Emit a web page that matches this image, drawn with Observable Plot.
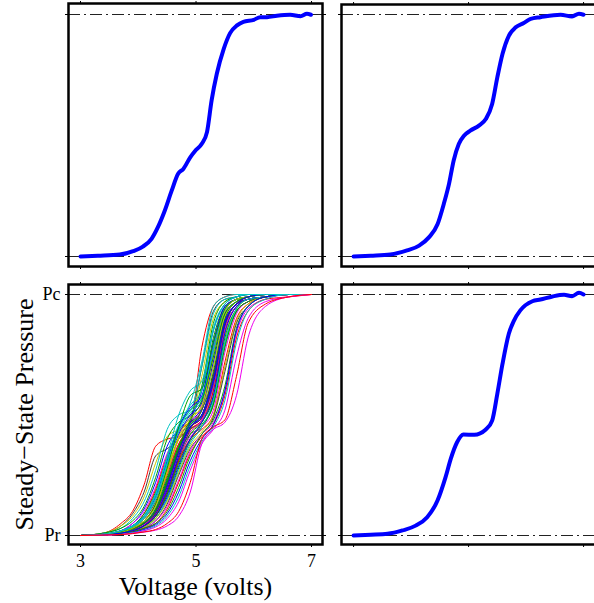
<!DOCTYPE html>
<html>
<head>
<meta charset="utf-8">
<script src="https://cdn.jsdelivr.net/npm/d3@7"></script>
<script src="https://cdn.jsdelivr.net/npm/@observablehq/plot@0.6"></script>
<style>
  html, body { margin: 0; padding: 0; background: white; overflow: hidden; }
  #wrap { position: relative; width: 594px; height: 603px; overflow: hidden; background: white; }
  #wrap > div { position: absolute; }
  #wrap svg { max-width: none !important; display: block; }
</style>
</head>
<body>
<div id="wrap">
  <div id="tl" style="left:0px;top:0px;width:330px"></div>
  <div id="tr" style="left:330px;top:0px;width:270px"></div>
  <div id="bl" style="left:0px;top:275px;width:330px"></div>
  <div id="br" style="left:330px;top:275px;width:270px"></div>
</div>
<script>
// ---------- data ----------
const xTicks = [3, 5, 7];
const xTickLabels = ["3", "5", "7"];
const yTickValues = [0, 1];
const yTickLabels = ["Pr", "Pc"];
const xLabel = "Voltage (volts)";
const yLabel = "Steady\u2212State Pressure";

// top-left single curve
const tlV = [3.0, 3.3, 3.68, 3.91, 4.08, 4.23, 4.34, 4.46, 4.58, 4.69, 4.78, 4.90, 4.98, 5.10, 5.19, 5.27, 5.36, 5.48, 5.59, 5.71, 5.82, 6.0, 6.11, 6.23, 6.40, 6.63, 6.81, 6.92, 6.99];
const tlP = [0, 0.003, 0.008, 0.022, 0.041, 0.073, 0.121, 0.19, 0.273, 0.342, 0.362, 0.41, 0.435, 0.466, 0.514, 0.645, 0.755, 0.858, 0.923, 0.955, 0.97, 0.978, 0.989, 0.989, 0.995, 0.999, 0.993, 1.003, 0.999];

// top-right single curve
const trV = [3.0, 3.3, 3.64, 3.93, 4.14, 4.31, 4.46, 4.57, 4.66, 4.74, 4.83, 4.92, 5.03, 5.18, 5.30, 5.41, 5.50, 5.59, 5.70, 5.82, 5.96, 6.08, 6.25, 6.60, 6.80, 6.92, 7.0];
const trP = [0, 0.003, 0.008, 0.025, 0.045, 0.079, 0.133, 0.218, 0.30, 0.396, 0.465, 0.499, 0.520, 0.541, 0.568, 0.63, 0.74, 0.837, 0.912, 0.947, 0.965, 0.982, 0.989, 0.999, 0.992, 1.003, 0.999];

// bottom-right single curve
const brV = [3.0, 3.3, 3.59, 3.85, 4.08, 4.28, 4.46, 4.60, 4.69, 4.80, 4.91, 5.10, 5.30, 5.41, 5.50, 5.59, 5.70, 5.79, 5.90, 6.11, 6.25, 6.46, 6.66, 6.80, 6.92, 7.0];
const brP = [0, 0.003, 0.007, 0.021, 0.041, 0.076, 0.145, 0.242, 0.318, 0.387, 0.419, 0.418, 0.44, 0.477, 0.588, 0.712, 0.837, 0.892, 0.934, 0.972, 0.979, 0.992, 0.999, 0.993, 1.007, 1.0];

// bottom-left: many curves on a shared voltage grid
const blV = [3.0, 3.4, 3.7, 3.9, 4.1, 4.3, 4.5, 4.7, 4.9, 5.1, 5.3, 5.5, 5.7, 5.9, 6.2, 6.6, 7.0];
const blCurves = [
  [0,.01,.05,.10,.21,.37,.40,.41,.46,.78,.95,.99,1,1,1,1,1],
  [0,.01,.04,.09,.18,.33,.36,.40,.47,.70,.93,.98,.99,1,1,1,1],
  [0,.01,.04,.08,.16,.30,.41,.44,.48,.66,.90,.97,.99,1,1,1,1],
  [0,.01,.03,.07,.14,.27,.44,.50,.52,.70,.92,.98,.99,1,1,1,1],
  [0,.01,.03,.06,.12,.24,.40,.47,.50,.62,.88,.97,.99,1,1,1,1],
  [0,.005,.02,.05,.11,.22,.37,.44,.49,.60,.85,.96,.99,1,1,1,1],
  [0,.005,.02,.05,.10,.20,.34,.42,.46,.55,.80,.95,.98,.99,1,1,1],
  [0,.005,.02,.04,.09,.19,.33,.43,.47,.52,.76,.93,.98,.99,1,1,1],
  [0,.005,.02,.04,.09,.18,.32,.45,.52,.57,.82,.95,.98,.99,1,1,1],
  [0,.005,.02,.04,.08,.17,.30,.42,.50,.55,.78,.94,.98,.99,1,1,1],
  [0,.005,.02,.04,.08,.16,.30,.44,.54,.60,.86,.96,.99,1,1,1,1],
  [0,.005,.015,.035,.07,.15,.28,.40,.46,.52,.72,.92,.97,.99,1,1,1],
  [0,.005,.015,.035,.07,.14,.27,.40,.47,.50,.68,.90,.97,.99,1,1,1],
  [0,.005,.015,.03,.06,.13,.26,.38,.44,.48,.64,.88,.96,.98,.99,1,1],
  [0,.005,.015,.03,.06,.13,.25,.38,.45,.49,.66,.89,.96,.99,1,1,1],
  [0,.005,.015,.03,.06,.12,.24,.37,.44,.47,.60,.86,.95,.98,.99,1,1],
  [0,.004,.012,.03,.05,.11,.23,.36,.45,.49,.62,.87,.96,.98,.99,1,1],
  [0,.004,.012,.03,.05,.11,.22,.36,.46,.52,.70,.91,.97,.99,1,1,1],
  [0,.004,.012,.025,.05,.10,.21,.34,.43,.47,.58,.83,.94,.98,.99,1,1],
  [0,.004,.012,.025,.05,.10,.20,.34,.42,.45,.55,.80,.93,.97,.99,1,1],
  [0,.004,.012,.028,.055,.11,.23,.37,.46,.50,.67,.90,.97,.99,1,1,1],
  [0,.004,.01,.022,.045,.09,.20,.35,.47,.53,.72,.92,.97,.99,1,1,1],
  [0,.005,.016,.035,.07,.15,.29,.43,.51,.56,.78,.94,.98,.99,1,1,1],
  [0,.003,.01,.022,.045,.095,.21,.35,.44,.48,.60,.85,.95,.98,.99,1,1],
  [0,.004,.013,.03,.06,.13,.27,.41,.49,.53,.70,.91,.97,.99,1,1,1],
  [0,.003,.009,.02,.04,.085,.19,.33,.43,.48,.62,.86,.95,.98,.99,1,1],
  [0,.005,.018,.04,.08,.16,.31,.45,.53,.58,.80,.95,.98,.99,1,1,1],
  [0,.003,.009,.019,.038,.08,.17,.31,.42,.47,.57,.82,.94,.98,.99,1,1],
  [0,.004,.012,.026,.052,.105,.22,.36,.45,.49,.63,.87,.96,.98,.99,1,1],
  [0,.005,.017,.038,.075,.155,.30,.44,.52,.57,.76,.93,.98,.99,1,1,1],
  [0,.004,.011,.024,.048,.10,.21,.35,.45,.50,.65,.89,.96,.99,1,1,1],
  [0,.003,.008,.017,.034,.07,.15,.28,.39,.45,.55,.79,.93,.97,.99,1,1],
  [0,.005,.018,.04,.08,.17,.33,.50,.60,.64,.85,.96,.99,1,1,1,1],
  [0,.004,.014,.03,.06,.13,.28,.45,.58,.61,.80,.94,.98,.99,1,1,1],
  [0,.004,.01,.025,.045,.09,.19,.32,.41,.45,.52,.76,.92,.97,.99,1,1],
  [0,.004,.01,.02,.04,.09,.18,.31,.40,.44,.50,.72,.90,.96,.99,1,1],
  [0,.004,.01,.02,.04,.08,.17,.30,.40,.46,.54,.78,.93,.97,.99,1,1],
  [0,.003,.01,.02,.04,.08,.16,.29,.40,.47,.58,.84,.95,.98,.99,1,1],
  [0,.003,.01,.02,.035,.07,.15,.27,.38,.45,.56,.80,.94,.98,.99,1,1],
  [0,.003,.01,.02,.035,.07,.14,.26,.37,.43,.50,.70,.89,.96,.99,1,1],
  [0,.003,.008,.018,.03,.06,.13,.25,.36,.42,.49,.68,.88,.95,.99,1,1],
  [0,.003,.008,.018,.03,.06,.12,.23,.35,.42,.47,.60,.84,.94,.98,1,1],
  [0,.003,.008,.015,.03,.05,.11,.22,.34,.41,.46,.58,.82,.93,.98,.99,1],
  [0,.003,.008,.015,.03,.05,.10,.20,.33,.42,.48,.62,.86,.95,.99,1,1],
  [0,.002,.006,.012,.025,.045,.09,.18,.31,.40,.46,.60,.85,.95,.99,1,1],
  [0,.002,.006,.012,.02,.04,.08,.16,.29,.39,.45,.56,.80,.93,.98,1,1],
  [0,.002,.005,.01,.02,.035,.07,.14,.27,.38,.44,.52,.74,.90,.97,.99,1],
  [0,.003,.01,.02,.04,.08,.18,.32,.44,.52,.66,.88,.96,.99,1,1,1],
  [0,.004,.012,.03,.06,.12,.26,.40,.48,.54,.74,.93,.98,.99,1,1,1],
  [0,.004,.01,.025,.05,.10,.22,.36,.48,.56,.74,.92,.97,.99,1,1,1],
  [0,.003,.01,.02,.04,.09,.19,.33,.45,.50,.64,.88,.96,.99,1,1,1],
  [0,.005,.02,.04,.08,.17,.32,.46,.55,.72,.95,.99,1,1,1,1,1],
  [0,.002,.004,.008,.014,.022,.04,.08,.18,.38,.44,.47,.58,.82,.95,.99,1],
  [0,.002,.004,.008,.015,.025,.05,.10,.22,.40,.45,.48,.66,.88,.96,.99,1]
];
const blColors = [
  "red","gray","yellow","cyan","green","blue","magenta","red","green","blue",
  "cyan","yellow","gray","magenta","red","green","blue","cyan","yellow","gray",
  "green","blue","cyan","red","yellow","magenta","blue","green","gray","cyan",
  "blue","green","cyan","green",
  "magenta","red","green","blue","cyan","yellow","gray","magenta","red","green",
  "blue","cyan","magenta","gray","yellow","green","blue","cyan","magenta","red"
];
const palette = {red:"#ff0000", green:"#00a000", blue:"#0000ff", cyan:"#00c4c4", magenta:"#ee00ee", yellow:"#c8c800", gray:"#404040"};

// ---------- helpers ----------
const blRows = [];
blCurves.forEach((c, i) => c.forEach((p, j) => blRows.push({id: i, v: blV[j], p, col: palette[blColors[i]]})));
const toRows = (V, P) => V.map((v, i) => ({v, p: P[i]}));

const none = () => "";
function frameMarks(withLabels) {
  return [
    Plot.ruleY(yTickValues, {stroke: "#222", strokeWidth: 1.1, strokeDasharray: "12,4,2,4"}),
    Plot.axisX({anchor: "top", ticks: xTicks, tickSize: 3, tickFormat: none, label: null}),
    Plot.axisY({anchor: "right", ticks: yTickValues, tickSize: 3, tickFormat: none, label: null}),
    withLabels
      ? Plot.axisX({anchor: "bottom", ticks: xTicks, tickSize: 3, tickPadding: 7, fontSize: 18, label: null,
                    tickFormat: d => xTickLabels[xTicks.indexOf(d)]})
      : Plot.axisX({anchor: "bottom", ticks: xTicks, tickSize: 3, tickFormat: none, label: null}),
    withLabels
      ? Plot.axisY({anchor: "left", ticks: yTickValues, tickSize: 3, tickPadding: 5, fontSize: 18, label: null,
                    tickFormat: d => yTickLabels[yTickValues.indexOf(d)]})
      : Plot.axisY({anchor: "left", ticks: yTickValues, tickSize: 3, tickFormat: none, label: null})
  ];
}
function panel(cfg, marks, withLabels) {
  return Plot.plot({
    width: cfg.width, height: cfg.height,
    marginLeft: cfg.ml, marginRight: cfg.mr, marginTop: cfg.mt, marginBottom: cfg.mb,
    x: {domain: cfg.xd, axis: null},
    y: {domain: cfg.yd, axis: null},
    style: {fontFamily: "'Liberation Serif', 'DejaVu Serif', serif", background: "white", overflow: "visible", color: "black", maxWidth: "none"},
    marks: [
      ...frameMarks(withLabels),
      ...marks,
      Plot.frame({stroke: "black", strokeWidth: 2.5})
    ]
  });
}

const leftX = [2.792, 7.19];
const rightX = [2.79, 7.225];
const blue = rows => Plot.line(rows, {x: "v", y: "p", stroke: "#0000ff", strokeWidth: 4, curve: "monotone-x", strokeLinejoin: "round", strokeLinecap: "round"});

document.getElementById("tl").append(panel(
  {width: 330, height: 275, ml: 68, mr: 8, mt: 3, mb: 9, xd: leftX, yd: [-0.0413, 1.0455]},
  [blue(toRows(tlV, tlP))], false));

document.getElementById("tr").append(panel(
  {width: 270, height: 275, ml: 11, mr: 4, mt: 4, mb: 9, xd: rightX, yd: [-0.0413, 1.0413]},
  [blue(toRows(trV, trP))], false));

document.getElementById("br").append(panel(
  {width: 270, height: 328, ml: 11, mr: 4, mt: 9, mb: 59, xd: rightX, yd: [-0.0373, 1.0415]},
  [blue(toRows(brV, brP))], false));

document.getElementById("bl").append(panel(
  {width: 330, height: 328, ml: 68, mr: 8, mt: 9, mb: 59, xd: leftX, yd: [-0.0373, 1.0415]},
  [
    Plot.line(blRows, {x: "v", y: "p", z: "id", stroke: "col", strokeWidth: 1, curve: "monotone-x"}),
    Plot.text([xLabel], {frameAnchor: "bottom", dy: 50, lineAnchor: "bottom", fontSize: 26, fill: "black"}),
    Plot.text([yLabel], {frameAnchor: "left", textAnchor: "middle", dx: -36, rotate: -90, lineAnchor: "bottom", fontSize: 26, fill: "black"})
  ], true));
</script>
</body>
</html>
